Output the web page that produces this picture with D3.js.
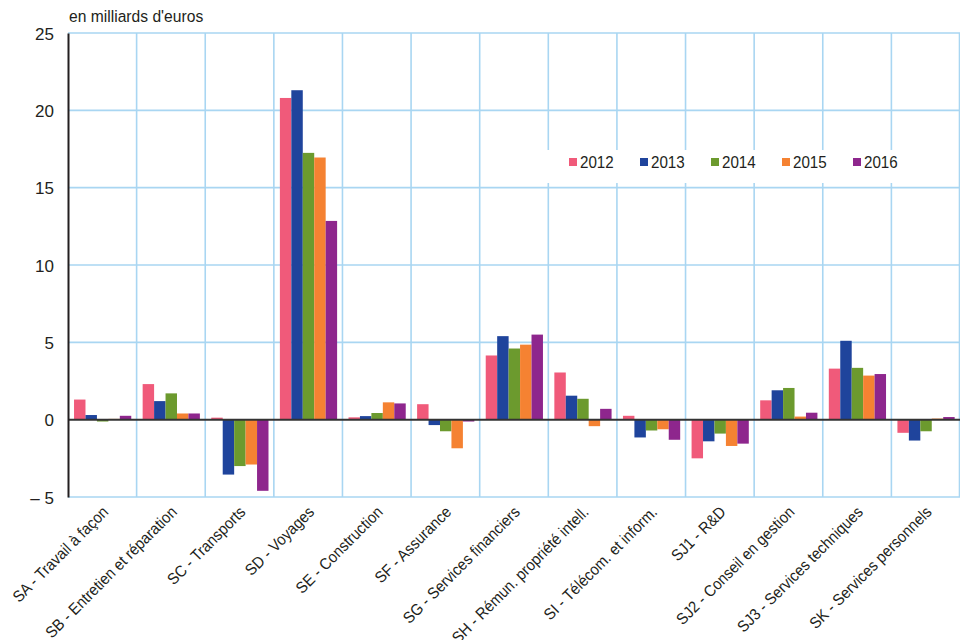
<!DOCTYPE html>
<html>
<head>
<meta charset="utf-8">
<script src="https://cdn.jsdelivr.net/npm/d3@7"></script>
<style>
  html, body { margin: 0; padding: 0; background: #fff; }
  svg { display: block; }
  text { font-family: "Liberation Sans", Arial, sans-serif; fill: #231f20; }
</style>
</head>
<body>
<svg id="chart" width="960" height="640"></svg>
<script>
// Solde des échanges de services par poste, en milliards d'euros
const categories = [
  "SA - Travail à façon",
  "SB - Entretien et réparation",
  "SC - Transports",
  "SD - Voyages",
  "SE - Construction",
  "SF - Assurance",
  "SG - Services financiers",
  "SH - Rémun. propriété intell.",
  "SI - Télécom. et inform.",
  "SJ1 - R&D",
  "SJ2 - Conseil en gestion",
  "SJ3 - Services techniques",
  "SK - Services personnels"
];
const years = ["2012", "2013", "2014", "2015", "2016"];

const values2012 = [1.3, 2.3, 0.13, 20.8, 0.15, 1.0, 4.15, 3.05, 0.25, -2.5, 1.25, 3.3, -0.85];
const values2013 = [0.3, 1.2, -3.55, 21.3, 0.23, -0.35, 5.4, 1.55, -1.15, -1.4, 1.9, 5.1, -1.35];
const values2014 = [-0.12, 1.7, -3.0, 17.25, 0.43, -0.75, 4.6, 1.35, -0.7, -0.9, 2.05, 3.35, -0.75];
const values2015 = [0.05, 0.4, -2.9, 16.95, 1.12, -1.85, 4.85, -0.42, -0.62, -1.7, 0.2, 2.85, 0.07];
const values2016 = [0.25, 0.4, -4.6, 12.85, 1.05, -0.12, 5.5, 0.7, -1.3, -1.55, 0.45, 2.95, 0.17];

const yTicks = [-5, 0, 5, 10, 15, 20, 25];
const yTickLabels = ["\u2013 5", "0", "5", "10", "15", "20", "25"];
const unitLabel = "en milliards d'euros";

const colors = ["#f05a7a", "#1f449c", "#6c9a2e", "#f58232", "#8e268d"];
const seriesValues = [values2012, values2013, values2014, values2015, values2016];

const margin = { top: 33, right: 0, bottom: 143, left: 68 };
const width = 960, height = 640;
const innerW = width - margin.left - margin.right;
const innerH = height - margin.top - margin.bottom;
const condense = 0.92;   // horizontal squeeze for a condensed look

const svg = d3.select("#chart");
const g = svg.append("g").attr("transform", `translate(${margin.left},${margin.top})`);

const x0 = d3.scaleBand().domain(categories).range([0, innerW]).padding(0);
const bw = x0.bandwidth();
const x1 = d3.scaleBand().domain(years).range([bw * 0.088, bw * 0.922]).padding(0);
const y = d3.scaleLinear().domain([-5, 25]).range([innerH, 0]);

const gridColor = "#a9d6f2";

// horizontal grid
g.append("g").selectAll("line")
  .data(yTicks.filter(t => t !== 0))
  .join("line")
  .attr("x1", 0).attr("x2", innerW)
  .attr("y1", d => y(d)).attr("y2", d => y(d))
  .attr("stroke", gridColor).attr("stroke-width", 1.6);

// vertical grid at category boundaries
g.append("g").selectAll("line")
  .data(categories.slice(1).map(c => x0(c)).concat([innerW - 0.5]))
  .join("line")
  .attr("x1", d => d).attr("x2", d => d)
  .attr("y1", 0).attr("y2", innerH)
  .attr("stroke", gridColor).attr("stroke-width", 1.6);

// bars
const groups = g.append("g").selectAll("g")
  .data(categories)
  .join("g")
  .attr("transform", d => `translate(${x0(d)},0)`);

groups.selectAll("rect")
  .data((c, i) => years.map((yr, k) => ({ year: yr, k, v: seriesValues[k][i] })))
  .join("rect")
  .attr("x", d => x1(d.year))
  .attr("width", x1.bandwidth())
  .attr("y", d => y(Math.max(0, d.v)))
  .attr("height", d => Math.abs(y(d.v) - y(0)))
  .attr("fill", d => colors[d.k]);

// zero line
g.append("line")
  .attr("x1", 0).attr("x2", innerW)
  .attr("y1", y(0)).attr("y2", y(0))
  .attr("stroke", "#333").attr("stroke-width", 2);

// y axis
const yAxis = d3.axisLeft(y).tickValues(yTicks)
  .tickFormat((d, i) => yTickLabels[i]).tickSize(0).tickPadding(14);
const ya = g.append("g").call(yAxis);
ya.select(".domain").attr("stroke", "#231f20").attr("stroke-width", 2);
ya.selectAll("text")
  .attr("font-size", 17)
  .attr("font-family", "Liberation Sans, Arial, sans-serif")
  .attr("fill", "#231f20")
  .attr("dy", "0.36em");

// unit label
svg.append("text")
  .attr("transform", `translate(${margin.left + 1},22) scale(${condense},1)`)
  .attr("font-size", 17)
  .text(unitLabel);

// category labels, rotated
const xa = g.append("g").attr("transform", `translate(0,${innerH})`);
xa.selectAll("text")
  .data(categories)
  .join("text")
  .attr("transform", d => `translate(${x0(d) + bw / 2 + 7},${16}) rotate(-45) scale(${condense},1)`)
  .attr("text-anchor", "end")
  .attr("font-size", 16)
  .text(d => d);

// legend
const lg = svg.append("g").attr("transform", "translate(547,150)");
lg.append("rect").attr("width", 358).attr("height", 33).attr("fill", "#fff");
const items = lg.selectAll("g.item")
  .data(years)
  .join("g")
  .attr("class", "item")
  .attr("transform", (d, i) => `translate(${22 + i * 71},0)`);
items.append("rect")
  .attr("y", 8).attr("width", 8).attr("height", 8)
  .attr("fill", (d, i) => colors[i]);
items.append("text")
  .attr("transform", `translate(11,18) scale(${condense},1)`)
  .attr("font-size", 16.5)
  .text(d => d);
</script>
</body>
</html>
